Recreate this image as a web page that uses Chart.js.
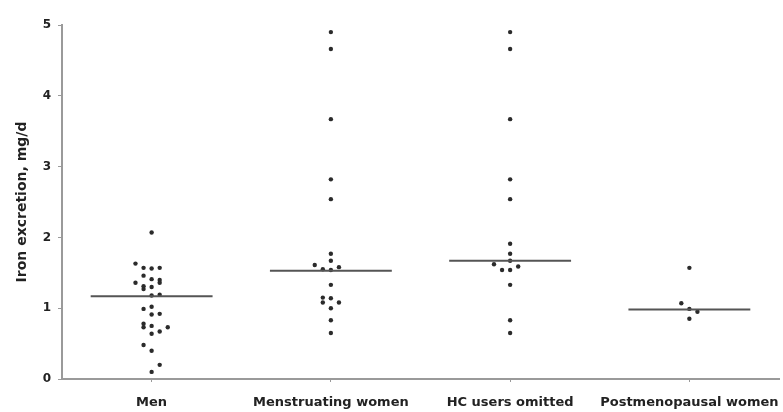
<!DOCTYPE html>
<html>
<head>
<meta charset="utf-8">
<script src="https://cdn.jsdelivr.net/npm/chart.js@4"></script>
<style>
  html, body { margin: 0; padding: 0; background: #fff; }
  #wrap { width: 783px; height: 412px; }
</style>
</head>
<body>
<div id="wrap"><canvas id="myChart"></canvas></div>
<script>
const ctx = document.getElementById('myChart');

const groups = ['Men', 'Menstruating women', 'HC users omitted', 'Postmenopausal women'];
const yTicks = [0, 1, 2, 3, 4, 5];

// values, with the column slot each dot sits in (-2..2)
const menValues = [2.07, 1.63, 1.57, 1.56, 1.57, 1.46, 1.36, 1.31, 1.27, 1.41, 1.40, 1.36, 1.30,
  1.18, 1.19, 0.99, 1.02, 0.91, 0.92, 0.78, 0.73, 0.75, 0.73, 0.67, 0.64, 0.48, 0.40, 0.20, 0.10];
const menSlots = [0, -2, -1, 0, 1, -1, -2, -1, -1, 0, 1, 1, 0,
  0, 1, -1, 0, 0, 1, -1, -1, 0, 2, 1, 0, -1, 0, 1, 0];

const menstruatingValues = [4.90, 4.66, 3.67, 2.82, 2.54, 1.77, 1.67, 1.61, 1.55, 1.54, 1.58,
  1.33, 1.15, 1.08, 1.14, 1.08, 1.00, 0.83, 0.65];
const menstruatingSlots = [0, 0, 0, 0, 0, 0, 0, -2, -1, 0, 1,
  0, -1, -1, 0, 1, 0, 0, 0];

const hcValues = [4.90, 4.66, 3.67, 2.82, 2.54, 1.91, 1.77, 1.67, 1.62, 1.54, 1.54, 1.59, 1.33, 0.83, 0.65];
const hcSlots = [0, 0, 0, 0, 0, 0, 0, 0, -2, -1, 0, 1, 0, 0, 0];

const postValues = [1.57, 1.07, 0.99, 0.95, 0.85];
const postSlots = [0, -1, 0, 1, 0];

const medians = [1.17, 1.53, 1.67, 0.98];

const slotWidth = 0.045;
const medianHalf = 0.34;

const toPoints = (groupIndex, values, slots) =>
  values.map((v, i) => ({ x: groupIndex + 1 + slots[i] * slotWidth, y: v }));

const dotColor = '#2b2b2b';
const lineColor = '#555';
const axisColor = '#9a9a9a';
const labelFont = { family: 'DejaVu Sans, sans-serif', size: 13, weight: 'bold' };
const tickFont = { family: 'DejaVu Sans, sans-serif', size: 12, weight: 'bold' };
const titleFont = { family: 'DejaVu Sans, sans-serif', size: 14, weight: 'bold' };

const dotSets = [
  [menValues, menSlots],
  [menstruatingValues, menstruatingSlots],
  [hcValues, hcSlots],
  [postValues, postSlots],
].map(([values, slots], gi) => ({
  label: groups[gi],
  data: toPoints(gi, values, slots),
  backgroundColor: dotColor,
  borderColor: dotColor,
  pointRadius: 2.2,
  borderWidth: 0,
}));

const medianSets = medians.map((m, gi) => ({
  label: groups[gi] + ' median',
  data: [{ x: gi + 1 - medianHalf, y: m }, { x: gi + 1 + medianHalf, y: m }],
  showLine: true,
  borderColor: lineColor,
  borderWidth: 2,
  pointRadius: 0,
}));

new Chart(ctx, {
  type: 'scatter',
  data: { datasets: [...medianSets, ...dotSets] },
  options: {
    responsive: true,
    maintainAspectRatio: false,
    animation: false,
    layout: { padding: { top: 25, right: 3, left: 0, bottom: 0 } },
    plugins: { legend: { display: false }, tooltip: { enabled: false } },
    scales: {
      x: {
        type: 'linear',
        min: 0.5,
        max: 4.5,
        afterBuildTicks: (axis) => { axis.ticks = groups.map((_, i) => ({ value: i + 1 })); },
        afterFit: (axis) => {
          axis.height = 33;
          axis.paddingLeft = 0;
          axis.paddingRight = 0;
        },
        ticks: {
          callback: (v) => groups[v - 1],
          color: '#222',
          font: labelFont,
          padding: 13,
          maxRotation: 0,
          autoSkip: false,
        },
        grid: { drawOnChartArea: false, drawTicks: true, tickLength: 3, color: axisColor },
        border: { display: true, color: axisColor, width: 2 },
      },
      y: {
        min: 0,
        max: 5,
        afterBuildTicks: (axis) => { axis.ticks = yTicks.map(v => ({ value: v })); },
        afterFit: (axis) => {
          axis.width = 62;
          axis.paddingTop = 0;
          axis.paddingBottom = 0;
        },
        ticks: { color: '#222', font: tickFont, padding: 7 },
        grid: { drawOnChartArea: false, drawTicks: true, tickLength: 4, color: axisColor },
        border: { display: true, color: axisColor, width: 2 },
        title: {
          display: true,
          text: 'Iron excretion, mg/d',
          color: '#222',
          font: titleFont,
          padding: { top: 14, bottom: 0 },
        },
      },
    },
  },
});
</script>
</body>
</html>
